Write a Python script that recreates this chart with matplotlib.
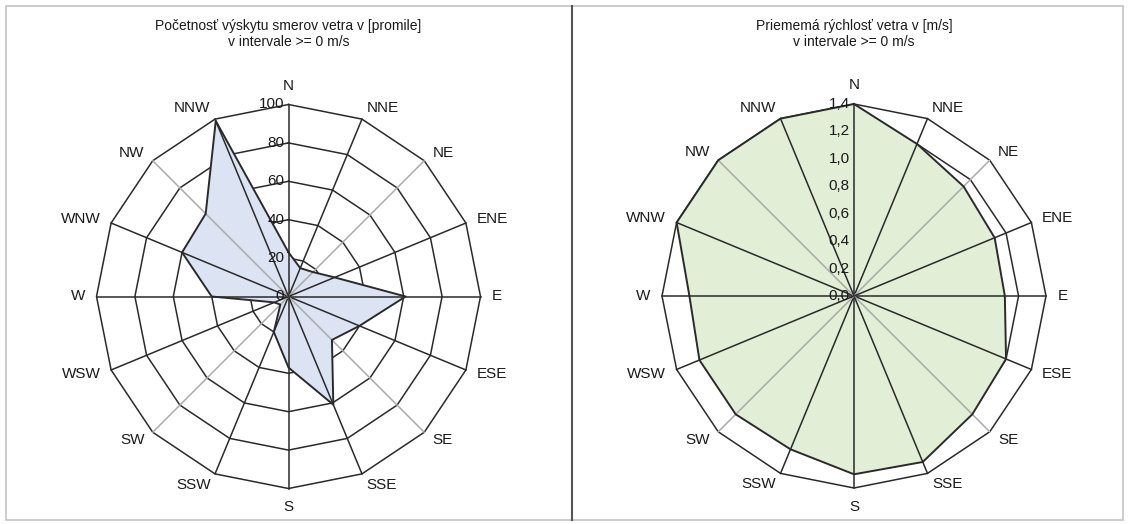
import numpy as np
import matplotlib
matplotlib.use('Agg')
import matplotlib.pyplot as plt
from matplotlib.patches import Rectangle

plt.rcParams['font.family'] = ['Liberation Sans', 'DejaVu Sans']

directions = ['N', 'NNE', 'NE', 'ENE', 'E', 'ESE', 'SE', 'SSE',
              'S', 'SSW', 'SW', 'WSW', 'W', 'WNW', 'NW', 'NNW']

# frequency of wind directions [promile]
frequency = [23, 16, 18, 26, 61, 40, 32, 61, 37, 20, 6, 8, 40, 60, 61, 99]
freq_ticks = [0, 20, 40, 60, 80, 100]
freq_labels = ['0', '20', '40', '60', '80', '100']

# mean wind speed [m/s]
speed = [1.40, 1.20, 1.13, 1.11, 1.10, 1.20, 1.22, 1.31,
         1.30, 1.21, 1.22, 1.22, 1.20, 1.40, 1.40, 1.40]
speed_ticks = [0.0, 0.2, 0.4, 0.6, 0.8, 1.0, 1.2, 1.4]
speed_labels = ['0,0', '0,2', '0,4', '0,6', '0,8', '1,0', '1,2', '1,4']

title_freq = 'Početnosť výskytu smerov vetra v [promile]\nv intervale >= 0 m/s'
title_speed = 'Priememá rýchlosť vetra v [m/s]\nv intervale >= 0 m/s'

W, H = 1128, 524
fig = plt.figure(figsize=(W / 100, H / 100), dpi=100)

# panel frames
fig.add_artist(Rectangle((6 / W, 4 / H), 566 / W, 514 / H, transform=fig.transFigure,
                         fill=False, edgecolor='#c4c4c4', lw=1.2))
fig.add_artist(Rectangle((572 / W, 4 / H), 551 / W, 514 / H, transform=fig.transFigure,
                         fill=False, edgecolor='#c4c4c4', lw=1.2))
fig.add_artist(plt.Line2D([572 / W, 572 / W], [4 / H, 518 / H], transform=fig.transFigure,
                          color='#555555', lw=1.5))


def rose(cx, cy, values, ticks, labels, fill, title):
    R = 192
    ax = fig.add_axes([(cx - R) / W, (H - cy - R) / H, 2 * R / W, 2 * R / H], polar=True)
    ax.set_theta_zero_location('N')
    ax.set_theta_direction(-1)
    rmax = ticks[-1]
    ax.set_ylim(0, rmax)
    ax.grid(False)
    ax.set_xticks([])
    ax.set_yticks([])
    ax.spines['polar'].set_visible(False)
    ax.patch.set_alpha(0)

    theta = np.deg2rad(np.arange(16) * 22.5)
    closed = np.append(theta, theta[0])

    for t in ticks[1:]:
        ax.plot(closed, [t] * 17, color='#2a2a2a', lw=1.1, zorder=1, clip_on=False)

    vals = np.append(values, values[0])
    ax.fill(closed, vals, color=fill, zorder=2, lw=0)

    for i, th in enumerate(theta):
        light = directions[i] in ('NE', 'SE', 'SW', 'NW')
        ax.plot([th, th], [0, rmax], color='#aaaaaa' if light else '#2a2a2a',
                lw=1.1, zorder=3, clip_on=False)

    ax.plot(closed, vals, color='#2a2a2a', lw=1.4, zorder=4, clip_on=False)

    for i, th in enumerate(theta):
        s = np.sin(th)
        c = np.cos(th)
        ha = 'center' if abs(s) < 0.1 else ('left' if s > 0 else 'right')
        if abs(s) < 0.1:
            va = 'bottom' if c > 0 else 'top'
        else:
            va = 'center'
        ax.text(th, rmax * 1.06, directions[i], ha=ha, va=va, fontsize=11,
                color='#1a1a1a', clip_on=False)

    for t, lab in zip(ticks, labels):
        ax.annotate(lab, xy=(0, t), xytext=(-3, 0), textcoords='offset points',
                    ha='right', va='center', fontsize=11, color='#1a1a1a',
                    annotation_clip=False, zorder=5)

    fig.text(cx / W, 1 - 19 / H, title, ha='center', va='top', fontsize=10,
             color='#1a1a1a', linespacing=1.2)


rose(288.5, 296.5, frequency, freq_ticks, freq_labels, '#dce4f4', title_freq)
rose(854, 296, speed, speed_ticks, speed_labels, '#e2eed6', title_speed)

fig.savefig('out.png', dpi=100)
